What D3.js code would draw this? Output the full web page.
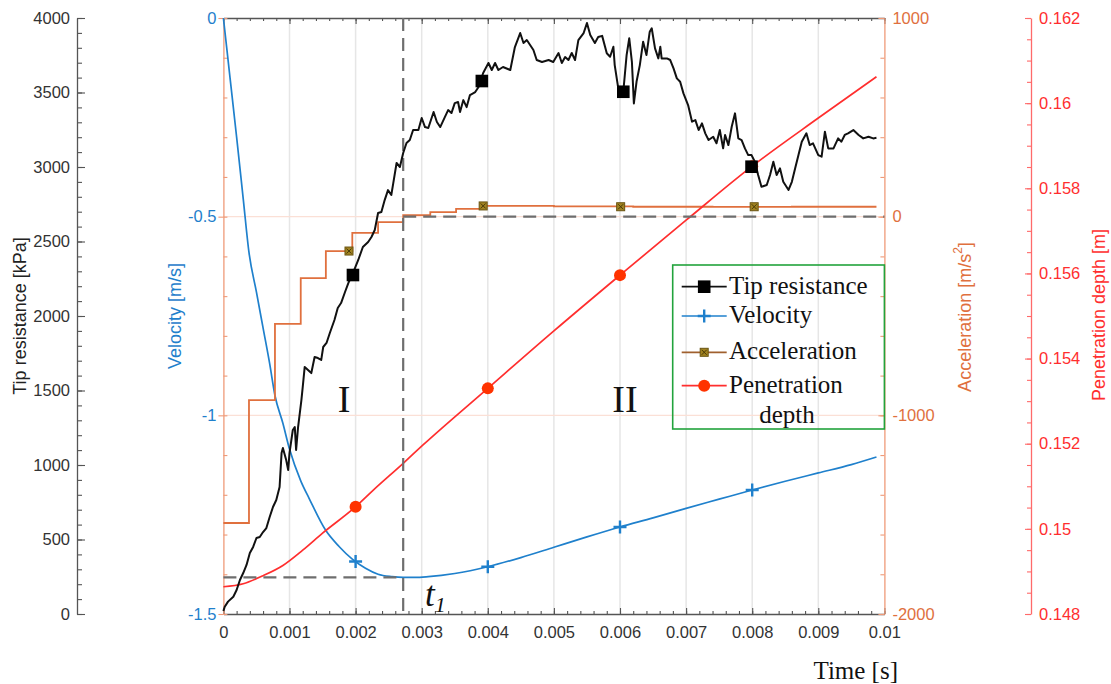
<!DOCTYPE html>
<html>
<head>
<meta charset="utf-8">
<script src="https://cdn.jsdelivr.net/npm/d3@7"></script>
<style>
  body { margin: 0; background: #fff; }
  svg { display: block; }
</style>
</head>
<body>
<svg id="chart" width="1111" height="684"></svg>
<script>
// ---- data (time in milliseconds) ----
const tipTime = [0.00,0.02,0.07,0.15,0.20,0.25,0.30,0.35,0.40,0.45,0.50,0.55,0.60,0.65,0.70,0.75,0.80,0.85,0.88,0.90,
  0.95,0.98,1.00,1.05,1.08,1.10,1.13,1.18,1.20,1.23,1.28,1.33,1.38,1.43,1.48,1.51,1.56,1.61,1.68,1.73,
  1.78,1.84,1.89,1.96,2.04,2.11,2.19,2.24,2.29,2.34,2.39,2.44,2.49,2.54,2.57,2.62,2.67,2.72,2.77,2.82,
  2.87,2.95,3.00,3.05,3.10,3.18,3.23,3.28,3.35,3.40,3.45,3.50,3.55,3.58,3.63,3.68,3.73,3.81,3.86,3.93,
  4.01,4.06,4.11,4.16,4.23,4.34,4.41,4.49,4.54,4.59,4.64,4.69,4.74,4.82,4.92,4.99,5.07,5.12,5.17,5.22,
  5.27,5.32,5.37,5.45,5.50,5.55,5.62,5.67,5.73,5.80,5.85,5.90,5.92,5.97,6.05,6.10,6.14,6.18,6.21,6.25,
  6.30,6.35,6.40,6.45,6.48,6.53,6.58,6.61,6.63,6.71,6.76,6.81,6.86,6.91,6.96,7.03,7.09,7.14,7.19,7.24,
  7.29,7.34,7.41,7.46,7.51,7.56,7.59,7.64,7.69,7.74,7.79,7.84,7.89,7.94,7.99,8.04,8.09,8.14,8.22,8.27,
  8.32,8.37,8.42,8.47,8.55,8.60,8.65,8.70,8.75,8.82,8.87,8.92,9.00,9.05,9.10,9.15,9.23,9.30,9.35,9.40,
  9.45,9.53,9.61,9.68,9.76,9.83,9.88];
const tipKPa = [20,49,83,116,161,228,275,329,409,450,510,517,550,577,651,718,765,852,1080,1114,
  1033,966,1080,1235,1255,1101,1255,1436,1523,1658,1638,1617,1725,1718,1705,1792,1819,1886,1973,2054,
  2087,2161,2221,2288,2376,2463,2497,2530,2577,2691,2698,2778,2845,2812,2892,3027,3000,3094,3161,3181,
  3248,3248,3329,3268,3262,3369,3302,3268,3335,3382,3362,3429,3436,3369,3449,3402,3483,3503,3537,3631,
  3698,3651,3698,3651,3671,3651,3805,3899,3832,3852,3819,3785,3718,3705,3718,3705,3765,3698,3738,3718,
  3765,3718,3852,3899,3966,3886,3832,3872,3880,3763,3740,3807,3684,3539,3505,3751,3864,3706,3427,3572,
  3684,3841,3751,3908,3931,3796,3729,3807,3729,3729,3718,3662,3595,3572,3494,3416,3304,3315,3248,3293,
  3226,3181,3203,3159,3248,3125,3215,3147,3270,3360,3192,3181,3125,3080,3080,3035,2946,2867,2879,2946,
  3035,2946,2991,2901,2846,2901,2991,3080,3170,3226,3147,3159,3080,3069,3237,3125,3125,3192,3170,3215,
  3226,3248,3215,3192,3203,3192,3196];

const velTime  = [0,0.1,0.2,0.3,0.387,0.5,0.6,0.7,0.78,0.9,1.0,1.17,1.3,1.55,1.75,1.95,2.15,2.34,2.55,2.72,
  2.9,3.1,3.5,4.0,4.5,5.0,5.5,6.0,6.5,7.0,7.5,8.0,8.5,9.0,9.5,9.88];
const velValue = [0,-0.15,-0.30,-0.455,-0.59,-0.69,-0.78,-0.87,-0.95,-1.02,-1.085,-1.165,-1.21,-1.29,-1.33,-1.362,-1.385,-1.400,-1.406,-1.408,
  -1.408,-1.406,-1.398,-1.381,-1.358,-1.332,-1.306,-1.281,-1.258,-1.234,-1.211,-1.188,-1.166,-1.145,-1.124,-1.105];

const accTime  = [0,0.387,0.78,1.17,1.55,1.95,2.34,2.72,3.13,3.52,3.93,5.0,6.2,7.4,8.6,9.88];
const accValue = [-1542,-923,-540,-309,-173,-82,-27,8,23,39,54,52,50,49,50,50];

const penTime  = [0,0.3,0.6,0.9,1.2,1.5,2.0,2.26,2.72,3.02,4.0,5.0,6.0,7.0,8.0,9.0,9.88];
const penDepth = [0.14864,0.14871,0.14890,0.14914,0.14950,0.14990,0.15052,0.15090,0.15154,0.15197,0.15330,0.15465,0.15596,0.15725,0.15852,0.15965,0.16062];

// marker positions along each series
const tipMarkTime = [1.96,3.91,6.05,7.99];
const tipMarkKPa  = [2275,3577,3505,3002];
const velMarkTime = [2.0,4.0,6.0,8.0];
const velMarkValue = [-1.368,-1.381,-1.281,-1.188];
const accMarkTime = [1.90,3.93,6.01,8.03];
const accMarkValue = [-173,54,50,50];
const penMarkTime = [2.0,4.0,6.0,8.0];
const penMarkDepth = [0.15052,0.15330,0.15596,0.15852];

// end of phase I and the velocity minimum
const t1 = 2.72;
const vMin = -1.408;

// tick values and labels
const timeTicks = [0,1,2,3,4,5,6,7,8,9,10];
const timeTickLabels = ["0","0.001","0.002","0.003","0.004","0.005","0.006","0.007","0.008","0.009","0.01"];
const tipTicks = [0,500,1000,1500,2000,2500,3000,3500,4000];
const velTicks = [0,-0.5,-1,-1.5];
const velTickLabels = ["0","-0.5","-1","-1.5"];
const accTicks = [1000,0,-1000,-2000];
const penTicks = [0.148,0.15,0.152,0.154,0.156,0.158,0.16,0.162];
const penTickLabels = ["0.148","0.15","0.152","0.154","0.156","0.158","0.16","0.162"];

// ---- colours ----
const C = {
  tip: "#111111", vel: "#1f80cc", acc: "#e0703e", accDark: "#a0602e",
  pen: "#ff2e2e", penAxis: "#ff6a6a", axis: "#555555", text: "#333333",
  accAxis: "#ef9a78", grid: "#e6e6e6", accGrid: "#fbe0d6", dash: "#6e6e6e", legend: "#22a33c"
};
const SANS = "'Liberation Sans', Arial, sans-serif";
const SERIF = "'Liberation Serif', 'Times New Roman', serif";
const plain = d => String(d);

// ---- layout / scales ----
const L = 223.4, R = 884.4, T = 18, B = 614;
const x = d3.scaleLinear([0, 10], [L, R]);
const yTip = d3.scaleLinear([0, 4000], [B, T]);
const yVel = d3.scaleLinear([-1.5, 0], [B, T]);
const yAcc = d3.scaleLinear([-2000, 1000], [B, T]);
const yPen = d3.scaleLinear([0.148, 0.162], [B, T]);

const svg = d3.select("#chart");

// ---- grid ----
const grid = svg.append("g");
grid.selectAll("line.v").data(timeTicks.filter(d => d > 0 && d < 10)).join("line")
  .attr("x1", d => x(d)).attr("x2", d => x(d)).attr("y1", T).attr("y2", B)
  .attr("stroke", C.grid).attr("stroke-width", 1.5);
grid.selectAll("line.h").data([0, -1000]).join("line")
  .attr("x1", L).attr("x2", R).attr("y1", d => yAcc(d)).attr("y2", d => yAcc(d))
  .attr("stroke", C.accGrid).attr("stroke-width", 1.2);

// ---- axes helper ----
function styleAxis(g, color, textColor, size) {
  g.selectAll(".domain").attr("stroke", color).attr("stroke-width", 1.3);
  g.selectAll(".tick line").attr("stroke", color).attr("stroke-width", 1.1);
  g.selectAll("text").attr("fill", textColor).style("font-family", SANS).style("font-size", (size || 16.5) + "px");
}
function minor(g) { g.select(".domain").remove(); }

// bottom time axis
svg.append("g").attr("transform", `translate(0,${B})`)
  .call(d3.axisBottom(x).tickValues(timeTicks).tickFormat((d, i) => timeTickLabels[i])
    .tickSizeInner(-6).tickSizeOuter(0).tickPadding(12))
  .call(g => styleAxis(g, C.axis, C.text));
svg.append("g").attr("transform", `translate(0,${B})`)
  .call(d3.axisBottom(x).tickValues(d3.range(0, 10.01, 0.2)).tickFormat("").tickSizeInner(-3).tickSizeOuter(0))
  .call(minor).call(g => styleAxis(g, C.axis, C.text));
// top edge
svg.append("g").attr("transform", `translate(0,${T})`)
  .call(d3.axisTop(x).tickValues(timeTicks).tickFormat("").tickSizeInner(-6).tickSizeOuter(0))
  .call(g => styleAxis(g, C.axis, C.text));
svg.append("g").attr("transform", `translate(0,${T})`)
  .call(d3.axisTop(x).tickValues(d3.range(0, 10.01, 0.2)).tickFormat("").tickSizeInner(-3).tickSizeOuter(0))
  .call(minor).call(g => styleAxis(g, C.axis, C.text));

// tip resistance axis (far left)
const tipX = 77;
svg.append("g").attr("transform", `translate(${tipX},0)`)
  .call(d3.axisLeft(yTip).tickValues(tipTicks).tickFormat(plain).tickSizeInner(-8).tickSizeOuter(0).tickPadding(7))
  .call(g => styleAxis(g, C.axis, C.text));
svg.append("g").attr("transform", `translate(${tipX},0)`)
  .call(d3.axisLeft(yTip).tickValues(d3.range(0, 4001, 100)).tickFormat("").tickSizeInner(-5).tickSizeOuter(0))
  .call(minor).call(g => styleAxis(g, C.axis, C.text));

// velocity labels on the left edge of the plot box
svg.append("g").attr("transform", `translate(${L},0)`)
  .call(d3.axisLeft(yVel).tickValues(velTicks).tickFormat((d, i) => velTickLabels[i])
    .tickSizeInner(5).tickSizeOuter(0).tickPadding(2))
  .call(g => styleAxis(g, C.accAxis, C.vel));
svg.append("g").attr("transform", `translate(${L},0)`)
  .call(d3.axisLeft(yAcc).tickValues(d3.range(-2000, 1001, 200)).tickFormat("").tickSizeInner(-4).tickSizeOuter(0))
  .call(minor).call(g => styleAxis(g, C.accAxis, C.vel));

// acceleration axis (right edge of plot box)
svg.append("g").attr("transform", `translate(${R},0)`)
  .call(d3.axisRight(yAcc).tickValues(accTicks).tickFormat(plain).tickSizeInner(-6).tickSizeOuter(0).tickPadding(8))
  .call(g => styleAxis(g, C.accAxis, C.acc));
svg.append("g").attr("transform", `translate(${R},0)`)
  .call(d3.axisRight(yAcc).tickValues(d3.range(-2000, 1001, 200)).tickFormat("").tickSizeInner(-4).tickSizeOuter(0))
  .call(minor).call(g => styleAxis(g, C.accAxis, C.acc));

// penetration depth axis (far right)
const penX = 1031;
svg.append("g").attr("transform", `translate(${penX},0)`)
  .call(d3.axisRight(yPen).tickValues(penTicks).tickFormat((d, i) => penTickLabels[i])
    .tickSizeInner(-6).tickSizeOuter(0).tickPadding(8))
  .call(g => styleAxis(g, C.penAxis, C.pen));
svg.append("g").attr("transform", `translate(${penX},0)`)
  .call(d3.axisRight(yPen).tickValues(d3.range(0, 29).map(i => 0.148 + i * 0.0005)).tickFormat("").tickSizeInner(-4).tickSizeOuter(0))
  .call(minor).call(g => styleAxis(g, C.penAxis, C.pen));

// axis titles
function vTitle(cx, cy, color) {
  return svg.append("text").attr("transform", `translate(${cx},${cy}) rotate(-90)`)
    .attr("text-anchor", "middle").attr("dominant-baseline", "central")
    .attr("fill", color).style("font-family", SANS).style("font-size", "18px");
}
vTitle(19.5, 316, "#222").text("Tip resistance [kPa]");
vTitle(174.5, 316, C.vel).text("Velocity [m/s]");
const accTitle = vTitle(965, 317, C.acc);
accTitle.append("tspan").text("Acceleration [m/s");
accTitle.append("tspan").text("2").style("font-size", "12px").attr("dy", -7);
accTitle.append("tspan").text("]").attr("dy", 7);
vTitle(1098.5, 315, C.pen).text("Penetration depth [m]");

svg.append("text").attr("x", 898).attr("y", 679).attr("text-anchor", "end")
  .attr("fill", "#111").style("font-family", SERIF).style("font-size", "25px").text("Time [s]");

// ---- series ----
const zip = (a, b) => a.map((t, i) => [t, b[i]]);
const plot = svg.append("g");

plot.append("path").datum(zip(velTime, velValue))
  .attr("fill", "none").attr("stroke", C.vel).attr("stroke-width", 1.7)
  .attr("d", d3.line().x(d => x(d[0])).y(d => yVel(d[1])).curve(d3.curveMonotoneX));

plot.append("path").datum(zip(accTime, accValue))
  .attr("fill", "none").attr("stroke", C.acc).attr("stroke-width", 1.8)
  .attr("d", d3.line().x(d => x(d[0])).y(d => yAcc(d[1])).curve(d3.curveStepAfter));

plot.append("path").datum(zip(penTime, penDepth))
  .attr("fill", "none").attr("stroke", C.pen).attr("stroke-width", 1.7)
  .attr("d", d3.line().x(d => x(d[0])).y(d => yPen(d[1])).curve(d3.curveMonotoneX));

// phase boundary and reference dashes
const dash = plot.append("g").attr("stroke", C.dash).attr("stroke-width", 2.2).attr("stroke-dasharray", "13,7");
dash.append("line").attr("x1", x(t1)).attr("x2", x(t1)).attr("y1", T).attr("y2", B);
dash.append("line").attr("x1", x(0)).attr("x2", x(t1)).attr("y1", yVel(vMin)).attr("y2", yVel(vMin));
dash.append("line").attr("x1", x(t1)).attr("x2", x(10)).attr("y1", yAcc(0)).attr("y2", yAcc(0));

plot.append("path").datum(zip(tipTime, tipKPa))
  .attr("fill", "none").attr("stroke", C.tip).attr("stroke-width", 2).attr("stroke-linejoin", "round")
  .attr("d", d3.line().x(d => x(d[0])).y(d => yTip(d[1])));

// markers
function plusMark(g, cx, cy, s, color) {
  g.append("path").attr("d", `M${cx - s},${cy}H${cx + s}M${cx},${cy - s}V${cy + s}`)
    .attr("stroke", color).attr("stroke-width", 2.4).attr("fill", "none");
}
function accMark(g, cx, cy, s) {
  g.append("rect").attr("x", cx - s).attr("y", cy - s).attr("width", 2 * s).attr("height", 2 * s)
    .attr("fill", "#a08220").attr("stroke", "#6a5412").attr("stroke-width", 1);
  g.append("path").attr("d", `M${cx - s + 1.5},${cy - s + 1.5}L${cx + s - 1.5},${cy + s - 1.5}M${cx + s - 1.5},${cy - s + 1.5}L${cx - s + 1.5},${cy + s - 1.5}`)
    .attr("stroke", "#4a3a08").attr("stroke-width", 1);
}
const marks = svg.append("g");
velMarkTime.forEach((t, i) => plusMark(marks, x(t), yVel(velMarkValue[i]), 6.5, C.vel));
accMarkTime.forEach((t, i) => accMark(marks, x(t), yAcc(accMarkValue[i]), 4));
penMarkTime.forEach((t, i) => marks.append("circle").attr("cx", x(t)).attr("cy", yPen(penMarkDepth[i])).attr("r", 6).attr("fill", "#ff3300"));
tipMarkTime.forEach((t, i) => marks.append("rect").attr("x", x(t) - 6.3).attr("y", yTip(tipMarkKPa[i]) - 6.3)
  .attr("width", 12.6).attr("height", 12.6).attr("fill", "#000"));

// phase labels
svg.append("text").attr("x", 344).attr("y", 412).attr("text-anchor", "middle")
  .style("font-family", SERIF).style("font-size", "38px").attr("fill", "#111").text("I");
svg.append("text").attr("x", 625).attr("y", 412).attr("text-anchor", "middle")
  .style("font-family", SERIF).style("font-size", "38px").attr("fill", "#111").text("II");
const tLab = svg.append("text").attr("x", 425).attr("y", 606)
  .style("font-family", SERIF).style("font-style", "italic").attr("fill", "#111");
tLab.append("tspan").text("t").style("font-size", "35px");
tLab.append("tspan").text("1").style("font-size", "22px").attr("dy", 6);

// ---- legend ----
const leg = svg.append("g");
leg.append("rect").attr("x", 672.7).attr("y", 265).attr("width", 211.7).attr("height", 164)
  .attr("fill", "none").attr("stroke", C.legend).attr("stroke-width", 1.6);
const legItems = [
  { label: "Tip resistance", y: 286.7, color: C.tip, mark: "square" },
  { label: "Velocity", y: 316, color: C.vel, mark: "plus" },
  { label: "Acceleration", y: 352.3, color: C.accDark, mark: "acc" },
  { label: "Penetration", y: 385.7, color: C.pen, mark: "circle" }
];
const lx0 = 681.7, lx1 = 726.7, lxm = (lx0 + lx1) / 2;
legItems.forEach(it => {
  leg.append("line").attr("x1", lx0).attr("x2", lx1).attr("y1", it.y).attr("y2", it.y)
    .attr("stroke", it.color).attr("stroke-width", 1.7);
  if (it.mark === "square") leg.append("rect").attr("x", lxm - 6.3).attr("y", it.y - 6.3).attr("width", 12.6).attr("height", 12.6).attr("fill", "#000");
  if (it.mark === "plus") plusMark(leg, lxm, it.y, 6.5, C.vel);
  if (it.mark === "acc") accMark(leg, lxm, it.y, 4);
  if (it.mark === "circle") leg.append("circle").attr("cx", lxm).attr("cy", it.y).attr("r", 6).attr("fill", "#ff3300");
  leg.append("text").attr("x", 729).attr("y", it.y + 7).attr("fill", "#111")
    .style("font-family", SERIF).style("font-size", "25px").text(it.label);
});
leg.append("text").attr("x", 787).attr("y", 423).attr("text-anchor", "middle").attr("fill", "#111")
  .style("font-family", SERIF).style("font-size", "25px").text("depth");
</script>
</body>
</html>
